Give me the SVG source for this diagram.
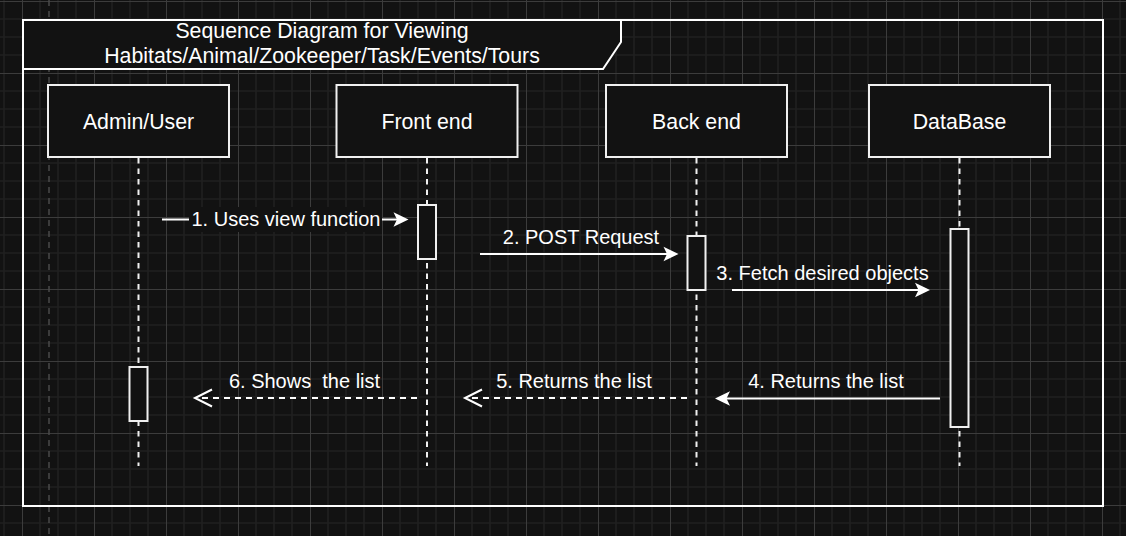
<svg xmlns="http://www.w3.org/2000/svg" width="1126" height="536" viewBox="0 0 1126 536">
<style>
.box{fill:#121212;stroke:#f0f0f0;stroke-width:2}
.act{fill:#121212;stroke:#f0f0f0;stroke-width:2}
.life{fill:none;stroke:#f0f0f0;stroke-width:2;stroke-dasharray:5.5 5}
.msg{fill:none;stroke:#ffffff;stroke-width:2}
.ret{fill:none;stroke:#ffffff;stroke-width:2;stroke-dasharray:6 5}
.node{font-family:"Liberation Sans",Arial,Helvetica,sans-serif;font-size:21.3px;fill:#ffffff;text-anchor:middle}
.lbl{font-family:"Liberation Sans",Arial,Helvetica,sans-serif;font-size:20px;fill:#ffffff;text-anchor:middle;white-space:pre}
</style>
<defs>
<pattern id="grid" patternUnits="userSpaceOnUse" x="22" y="1" width="72" height="72">
<rect width="72" height="72" fill="#121212"/>
<path d="M18 0V72M36 0V72M54 0V72M0 18H72M0 36H72M0 54H72" stroke="#1f1f1f" stroke-width="1.6" fill="none"/>
<path d="M0.5 0V72M0 0.5H72" stroke="#3c3c3c" stroke-width="1" fill="none"/>
</pattern>
<marker id="block" viewBox="0 0 15 15" refX="10" refY="7.5" markerWidth="15" markerHeight="15" markerUnits="userSpaceOnUse" orient="auto" overflow="visible">
<path d="M0 0.2L15 7.5L0 14.8L3.5 7.5Z" fill="#ffffff" stroke="none"/>
</marker>
<marker id="open" viewBox="0 0 18 18" refX="17" refY="9" markerWidth="18" markerHeight="18" markerUnits="userSpaceOnUse" orient="auto" overflow="visible">
<path d="M0 0.5L17 9L0 17.5" fill="none" stroke="#ffffff" stroke-width="2"/>
</marker>
</defs>
<rect width="1126" height="536" fill="url(#grid)"/>
<line x1="49" y1="0" x2="49" y2="536" stroke="#4a4a4a" stroke-width="1.5" stroke-dasharray="6 5"/>
<g id="frame">
<rect x="23" y="20" width="1080" height="486" fill="none" stroke="#ffffff" stroke-width="2"/>
<polygon points="23,20 621,20 621,42 603,69 23,69" fill="#121212" stroke="#ffffff" stroke-width="2"/>
<text class="node" x="322" y="37.5">Sequence Diagram for Viewing</text>
<text class="node" x="322" y="63">Habitats/Animal/Zookeeper/Task/Events/Tours</text>
</g>
<g id="lifelines">
<line class="life" x1="138.5" y1="158" x2="138.5" y2="466"/>
<line class="life" x1="427" y1="158" x2="427" y2="466"/>
<line class="life" x1="696.5" y1="158" x2="696.5" y2="466"/>
<line class="life" x1="959.5" y1="158" x2="959.5" y2="466"/>
</g>
<g id="admin-user">
<rect class="box" x="48" y="85" width="181" height="72"/>
<text class="node" x="138.5" y="128.5">Admin/User</text>
</g>
<g id="front-end">
<rect class="box" x="336.5" y="85" width="181" height="72"/>
<text class="node" x="427" y="128.5">Front end</text>
</g>
<g id="back-end">
<rect class="box" x="606" y="85" width="181" height="72"/>
<text class="node" x="696.5" y="128.5">Back end</text>
</g>
<g id="database">
<rect class="box" x="869" y="85" width="181" height="72"/>
<text class="node" x="959.5" y="128.5">DataBase</text>
</g>
<g id="activations">
<rect class="act" x="418" y="205" width="18" height="54"/>
<rect class="act" x="687.5" y="236" width="18" height="54"/>
<rect class="act" x="950.5" y="229" width="18" height="198"/>
<rect class="act" x="129.5" y="367" width="18" height="54"/>
</g>
<g id="connectors">
<line class="msg" x1="162" y1="219.5" x2="403.5" y2="219.5" marker-end="url(#block)"/>
<rect x="189" y="207" width="193" height="25" fill="#121212"/>
<text class="lbl" x="286" y="226">1. Uses view function</text>
<line class="msg" x1="480" y1="254" x2="673.5" y2="254" marker-end="url(#block)"/>
<text class="lbl" x="581" y="244">2. POST Request</text>
<line class="msg" x1="732" y1="290" x2="925" y2="290" marker-end="url(#block)"/>
<text class="lbl" x="822.5" y="280">3. Fetch desired objects</text>
<line class="msg" x1="940" y1="398.5" x2="720" y2="398.5" marker-end="url(#block)"/>
<text class="lbl" x="826" y="388">4. Returns the list</text>
<line class="ret" x1="687" y1="398" x2="465" y2="398" marker-end="url(#open)"/>
<text class="lbl" x="574" y="388">5. Returns the list</text>
<line class="ret" x1="417" y1="398" x2="195" y2="398" marker-end="url(#open)"/>
<text class="lbl" x="304.5" y="388">6. Shows  the list</text>
</g>
</svg>
